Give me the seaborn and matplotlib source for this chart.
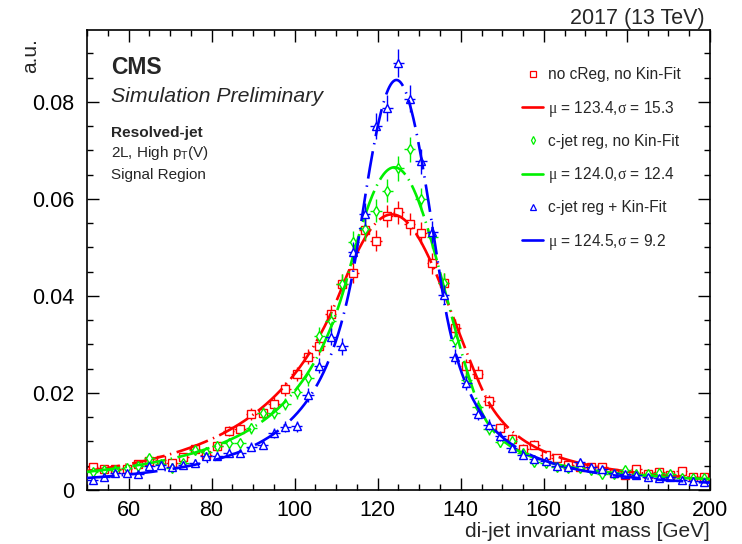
import numpy as np
import pandas as pd
import matplotlib
matplotlib.use("Agg")
import matplotlib.pyplot as plt
from matplotlib.lines import Line2D
from matplotlib.ticker import MultipleLocator, FuncFormatter
import seaborn as sns

# Di-jet invariant mass histograms: 55 bins between 50 and 200 GeV
mass_range = (50.0, 200.0)
n_bins = 55

# Normalised bin contents (a.u.)
no_creg = [0.0047, 0.0043, 0.0043, 0.0044, 0.0054, 0.0060, 0.0062, 0.0055, 0.0068, 0.0085,
           0.0072, 0.0090, 0.0122, 0.0126, 0.0157, 0.0158, 0.0178, 0.0208, 0.0239, 0.0275,
           0.0296, 0.0362, 0.0425, 0.0447, 0.0536, 0.0514, 0.0565, 0.0572, 0.0548, 0.0529,
           0.0467, 0.0427, 0.0334, 0.0255, 0.0240, 0.0183, 0.0127, 0.0106, 0.0085, 0.0093,
           0.0072, 0.0065, 0.0051, 0.0047, 0.0048, 0.0048, 0.0035, 0.0031, 0.0043, 0.0032,
           0.0037, 0.0030, 0.0039, 0.0027, 0.0026]
cjet_reg = [0.0038, 0.0041, 0.0041, 0.0045, 0.0049, 0.0065, 0.0053, 0.0045, 0.0056, 0.0082,
            0.0079, 0.0091, 0.0096, 0.0096, 0.0127, 0.0158, 0.0158, 0.0177, 0.0201, 0.0230,
            0.0318, 0.0349, 0.0425, 0.0511, 0.0537, 0.0576, 0.0617, 0.0663, 0.0702, 0.0599,
            0.0521, 0.0426, 0.0309, 0.0226, 0.0172, 0.0125, 0.0098, 0.0102, 0.0076, 0.0058,
            0.0055, 0.0048, 0.0045, 0.0045, 0.0041, 0.0033, 0.0034, 0.0041, 0.0033, 0.0034,
            0.0036, 0.0034, 0.0024, 0.0024, 0.0025]
cjet_kinfit = [0.0021, 0.0027, 0.0036, 0.0036, 0.0034, 0.0049, 0.0052, 0.0047, 0.0052, 0.0056,
               0.0070, 0.0070, 0.0077, 0.0076, 0.0089, 0.0093, 0.0118, 0.0130, 0.0131, 0.0196,
               0.0256, 0.0316, 0.0296, 0.0490, 0.0568, 0.0751, 0.0787, 0.0880, 0.0806, 0.0677,
               0.0531, 0.0402, 0.0275, 0.0220, 0.0157, 0.0134, 0.0112, 0.0087, 0.0072, 0.0064,
               0.0060, 0.0050, 0.0047, 0.0057, 0.0048, 0.0043, 0.0035, 0.0032, 0.0030, 0.0026,
               0.0024, 0.0026, 0.0020, 0.0018, 0.0017]

labels = ["no cReg, no Kin-Fit", "c-jet reg, no Kin-Fit", "c-jet reg + Kin-Fit"]
colors = ["#ff0000", "#00f000", "#0000ff"]
markers = ["s", "d", "^"]

# Fitted line shapes (double-sided Crystal Ball): core mean / width and tails
fit_mu = [123.4, 124.0, 124.5]
fit_sigma = [15.3, 12.4, 9.2]
fit_peak = [0.0568, 0.0665, 0.0845]
tail_left_alpha = [0.8, 0.9, 1.0]
tail_left_n = [4.0, 2.2, 2.0]
tail_right_alpha = [1.4, 1.6, 1.2]
tail_right_n = [1.5, 1.0, 2.0]

# relative MC statistical uncertainty scale (err = k * sqrt(content))
stat_scale = 0.0098


def crystal_ball(x, mu, sigma, peak, aL, nL, aR, nR):
    t = (x - mu) / sigma
    y = np.exp(-0.5 * t ** 2)
    left = t < -aL
    AL = (nL / aL) ** nL * np.exp(-0.5 * aL ** 2)
    BL = nL / aL - aL
    y[left] = AL * (BL - t[left]) ** (-nL)
    right = t > aR
    AR = (nR / aR) ** nR * np.exp(-0.5 * aR ** 2)
    BR = nR / aR - aR
    y[right] = AR * (BR + t[right]) ** (-nR)
    return peak * y


sns.set_theme(style="ticks")
plt.rcParams["font.family"] = ["Liberation Sans", "DejaVu Sans"]
plt.rcParams["mathtext.fontset"] = "custom"
plt.rcParams["mathtext.rm"] = "Liberation Serif"
plt.rcParams["mathtext.it"] = "Liberation Serif:italic"
plt.rcParams["mathtext.bf"] = "Liberation Serif:bold"
plt.rcParams["lines.scale_dashes"] = False

W, H = 742, 544
fig = plt.figure(figsize=(W / 100, H / 100), dpi=100)
fig.patch.set_facecolor("white")
ax = fig.add_axes([87 / W, 1 - 490 / H, (710 - 87) / W, (490 - 30) / H])
ax.set_facecolor("white")

edges = np.linspace(mass_range[0], mass_range[1], n_bins + 1)
centers = 0.5 * (edges[:-1] + edges[1:])
half_width = 0.5 * (edges[1] - edges[0])
xfine = np.linspace(mass_range[0], mass_range[1], 1501)

series = [no_creg, cjet_reg, cjet_kinfit]
msizes = [5.8, 5.6, 6.4]
dash_patterns = [(24, 4, 1, 4), (24, 4, 1, 4), (20, 5, 1, 5)]

for i, vals in enumerate(series):
    vals = np.asarray(vals)
    err = stat_scale * np.sqrt(vals)
    ax.errorbar(centers, vals, xerr=half_width, yerr=err, fmt=markers[i],
                color=colors[i], mfc="white", mec=colors[i], mew=1.0,
                ms=msizes[i], elinewidth=1.0, capsize=0, zorder=2 + 2 * i)
    curve = pd.DataFrame({
        "mass": xfine,
        "density": crystal_ball(xfine, fit_mu[i], fit_sigma[i], fit_peak[i],
                                tail_left_alpha[i], tail_left_n[i],
                                tail_right_alpha[i], tail_right_n[i]),
    })
    sns.lineplot(data=curve, x="mass", y="density", color=colors[i], lw=1.9,
                 estimator=None, ax=ax, zorder=3 + 2 * i)
    ax.lines[-1].set_dashes(dash_patterns[i])

ax.set_xlim(*mass_range)
ax.set_ylim(0, 0.0948)
ax.xaxis.set_major_locator(MultipleLocator(20))
ax.xaxis.set_minor_locator(MultipleLocator(5))
ax.yaxis.set_major_locator(MultipleLocator(0.02))
ax.yaxis.set_minor_locator(MultipleLocator(0.005))
ax.yaxis.set_major_formatter(FuncFormatter(lambda v, p: "0" if abs(v) < 1e-9 else f"{v:.2f}"))
ax.tick_params(which="both", direction="in", top=True, right=True, width=1.0, color="black")
ax.tick_params(which="major", length=8.6, labelsize=15.5, labelcolor="black")
ax.tick_params(which="minor", length=4.3)
ax.tick_params(axis="x", pad=7)
ax.tick_params(axis="y", pad=9)
for s in ax.spines.values():
    s.set_linewidth(1.2)
    s.set_color("black")
ax.set_xlabel("")
ax.set_ylabel("")


def fpos(px, py):
    return px / W, 1 - py / H


fig.text(*fpos(31, 38), "a.u.", rotation=90, ha="center", va="top", fontsize=15)
fig.text(*fpos(710, 537), "di-jet invariant mass [GeV]", ha="right", va="baseline", fontsize=15)
fig.text(*fpos(705, 24), "2017 (13 TeV)", ha="right", va="baseline", fontsize=15.5)

fig.text(*fpos(111, 73.5), "CMS", weight="bold", fontsize=16.5, va="baseline")
fig.text(*fpos(111, 102), "Simulation Preliminary", style="italic", fontsize=15.3, va="baseline")
fig.text(*fpos(111, 137), "Resolved-jet", weight="bold", fontsize=11.1, va="baseline")
fig.text(*fpos(111, 157), r"2L, High p$_\mathregular{T}$(V)", fontsize=11, va="baseline")
fig.text(*fpos(111, 179), "Signal Region", fontsize=11, va="baseline")

# Legend: data marker row followed by its fit row
legend_sizes = [4.2, 3.6, 4.4]
row = 0
for i in range(3):
    for kind in ("data", "fit"):
        yc = 74 + 33.2 * row
        if kind == "data":
            fig.add_artist(Line2D([533 / W], [1 - yc / H], marker=markers[i], ls="none",
                                  mfc="white", mec=colors[i], mew=0.9, ms=legend_sizes[i],
                                  transform=fig.transFigure))
            text = labels[i]
        else:
            fig.add_artist(Line2D([522 / W, 543 / W], [1 - yc / H] * 2, color=colors[i],
                                  lw=1.9, transform=fig.transFigure))
            text = (r"$\mathrm{\mu}$ = " + f"{fit_mu[i]:.1f}," +
                    r"$\mathrm{\sigma}$ = " + f"{fit_sigma[i]:.1f}")
        fig.text(*fpos(548, yc + 5.5), text, fontsize=11.2, va="baseline")
        row += 1

fig.savefig("out.png", dpi=100, facecolor="white")
